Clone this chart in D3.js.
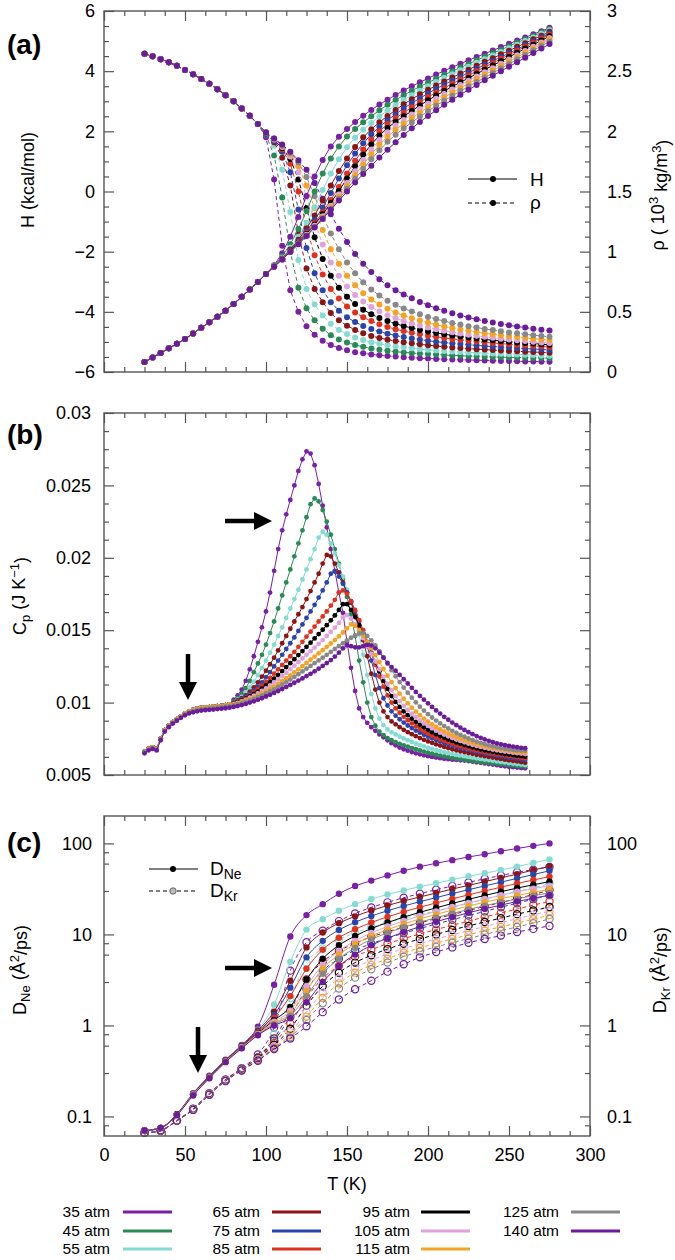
<!DOCTYPE html>
<html>
<head>
<meta charset="utf-8">
<script src="https://cdn.jsdelivr.net/npm/d3@7"></script>
<style>
  body { margin: 0; background: #fff; }
  text { font-family: "Liberation Sans", Arial, sans-serif; fill: #000; }
  .axis .domain { display: none; }
  .axis line { stroke: #555; stroke-width: 1.2; }
  .axis text { font-size: 18px; font-family: "Liberation Sans", Arial, sans-serif; fill: #000; }
</style>
</head>
<body>
<div id="chart"></div>
<script>
// pressures (legend) and line colours
var pressures = ["35 atm", "45 atm", "55 atm", "65 atm", "75 atm", "85 atm", "95 atm", "105 atm", "115 atm", "125 atm", "140 atm"];
var colors = ["#7a1fa6", "#2a8a56", "#84dbd3", "#8c1414", "#2944ad", "#e2301f", "#000000", "#dea2dc", "#f4a323", "#888888", "#6b1b9c"];

// axis tick labels
var tTicks = [0, 50, 100, 150, 200, 250, 300];
var hTicks = [-6, -4, -2, 0, 2, 4, 6];
var rhoTicks = [0, 0.5, 1, 1.5, 2, 2.5, 3];
var cpTicks = [5, 10, 15, 20, 25, 30];          // 10^-3 J/K
var dTicks = [0.1, 1, 10, 100];

// ---------- (a) enthalpy (kcal/mol) and density (10^3 kg/m3) ----------
var tempA = [25,30,35,40,45,50,55,60,65,70,75,80,85,90,95,100,105,110,115,120,125,130,135,140,145,150,
  155,160,165,170,175,180,185,190,195,200,205,210,215,220,225,230,235,240,245,250,255,260,265,270,275];

// all pressures overlap below 100 K
var hBelow100 = [-5.67,-5.52,-5.37,-5.21,-5.06,-4.90,-4.72,-4.53,-4.35,-4.16,-3.96,-3.74,-3.50,-3.26,-3.01,-2.74];
var h35 = hBelow100.concat([-2.45,-2.05,-1.5,-0.85,-0.15,0.5,1.05,1.5,1.82,2.08,2.31,2.52,2.71,2.89,3.05,3.21,3.36,3.5,3.63,3.76,3.89,4.01,4.13,4.25,4.36,4.47,4.58,4.69,4.8,4.91,5.02,5.12,5.23,5.33,5.44]);
var h45 = hBelow100.concat([-2.47,-2.15,-1.75,-1.25,-0.65,0.0,0.6,1.1,1.5,1.83,2.08,2.3,2.5,2.7,2.88,3.04,3.2,3.35,3.49,3.62,3.75,3.88,4.0,4.12,4.24,4.36,4.48,4.6,4.71,4.83,4.95,5.06,5.17,5.29,5.4]);
var h55 = hBelow100.concat([-2.48,-2.2,-1.87,-1.5,-1.05,-0.52,0.05,0.6,1.07,1.47,1.79,2.05,2.28,2.49,2.69,2.87,3.04,3.2,3.35,3.5,3.64,3.77,3.9,4.03,4.15,4.28,4.4,4.52,4.64,4.76,4.88,5.0,5.12,5.24,5.36]);
var h65 = hBelow100.concat([-2.49,-2.23,-1.93,-1.6,-1.23,-0.8,-0.3,0.2,0.68,1.1,1.48,1.8,2.07,2.3,2.51,2.71,2.9,3.07,3.23,3.38,3.52,3.66,3.79,3.92,4.05,4.18,4.31,4.43,4.56,4.68,4.81,4.93,5.06,5.18,5.31]);
var h75 = hBelow100.concat([-2.49,-2.24,-1.96,-1.65,-1.32,-0.95,-0.53,-0.05,0.43,0.87,1.26,1.6,1.9,2.15,2.37,2.57,2.76,2.94,3.1,3.26,3.41,3.55,3.69,3.82,3.95,4.08,4.21,4.34,4.47,4.6,4.73,4.86,4.99,5.12,5.26]);
var h85 = hBelow100.concat([-2.5,-2.25,-1.98,-1.69,-1.38,-1.05,-0.69,-0.28,0.15,0.6,1.02,1.4,1.72,2.0,2.24,2.44,2.62,2.8,2.97,3.14,3.29,3.44,3.58,3.72,3.86,4.0,4.14,4.27,4.41,4.54,4.68,4.81,4.94,5.08,5.21]);
var h95 = hBelow100.concat([-2.5,-2.25,-1.99,-1.71,-1.41,-1.1,-0.76,-0.38,0.02,0.43,0.84,1.22,1.56,1.86,2.11,2.32,2.5,2.68,2.86,3.03,3.19,3.34,3.49,3.63,3.77,3.91,4.05,4.19,4.33,4.47,4.61,4.75,4.88,5.02,5.16]);
var h105 = hBelow100.concat([-2.5,-2.26,-2.0,-1.73,-1.44,-1.14,-0.82,-0.47,-0.1,0.28,0.67,1.05,1.4,1.71,1.97,2.19,2.38,2.56,2.74,2.92,3.08,3.24,3.39,3.54,3.68,3.82,3.96,4.1,4.25,4.39,4.53,4.67,4.81,4.95,5.1]);
var h115 = hBelow100.concat([-2.5,-2.26,-2.0,-1.74,-1.46,-1.17,-0.86,-0.53,-0.18,0.18,0.54,0.9,1.24,1.55,1.82,2.05,2.25,2.44,2.62,2.8,2.97,3.13,3.29,3.44,3.59,3.74,3.88,4.03,4.17,4.32,4.46,4.61,4.75,4.9,5.05]);
var h125 = hBelow100.concat([-2.5,-2.26,-2.0,-1.74,-1.47,-1.18,-0.88,-0.57,-0.24,0.09,0.42,0.75,1.07,1.37,1.65,1.89,2.1,2.3,2.49,2.67,2.85,3.02,3.18,3.34,3.49,3.64,3.79,3.94,4.09,4.24,4.39,4.54,4.69,4.84,4.98]);
var h140 = hBelow100.concat([-2.5,-2.26,-2.01,-1.75,-1.48,-1.2,-0.91,-0.61,-0.3,0.0,0.3,0.58,0.86,1.13,1.39,1.64,1.88,2.1,2.31,2.51,2.7,2.88,3.05,3.22,3.38,3.54,3.7,3.85,4.0,4.15,4.3,4.45,4.6,4.75,4.9]);

var rhoBelow100 = [2.645,2.625,2.6,2.575,2.545,2.51,2.475,2.435,2.395,2.35,2.3,2.25,2.19,2.13,2.06];
var rho35 = rhoBelow100.concat([1.95,1.6,1.05,0.68,0.5,0.38,0.31,0.26,0.225,0.2,0.18,0.165,0.155,0.146,0.139,0.133,0.128,0.123,0.119,0.115,0.112,0.109,0.106,0.104,0.102,0.1,0.098,0.096,0.094,0.092,0.091,0.089,0.088,0.087,0.086,0.085]);
var rho45 = rhoBelow100.concat([1.97,1.8,1.45,1.0,0.7,0.53,0.43,0.36,0.305,0.27,0.245,0.225,0.209,0.196,0.185,0.176,0.169,0.163,0.158,0.153,0.149,0.145,0.141,0.138,0.135,0.132,0.13,0.127,0.125,0.123,0.121,0.12,0.118,0.117,0.116,0.115]);
var rho55 = rhoBelow100.concat([1.98,1.88,1.68,1.33,0.93,0.69,0.56,0.47,0.4,0.35,0.315,0.287,0.265,0.248,0.234,0.223,0.213,0.205,0.198,0.191,0.185,0.18,0.175,0.171,0.167,0.163,0.16,0.157,0.154,0.151,0.148,0.146,0.143,0.141,0.138,0.136]);
var rho65 = rhoBelow100.concat([1.98,1.91,1.78,1.55,1.15,0.86,0.69,0.58,0.49,0.43,0.385,0.35,0.322,0.3,0.283,0.269,0.257,0.247,0.238,0.23,0.223,0.216,0.21,0.204,0.199,0.194,0.19,0.186,0.182,0.178,0.175,0.172,0.169,0.166,0.163,0.16]);
var rho75 = rhoBelow100.concat([1.98,1.92,1.83,1.66,1.35,1.03,0.82,0.68,0.58,0.51,0.455,0.415,0.383,0.357,0.336,0.318,0.303,0.29,0.279,0.269,0.26,0.252,0.245,0.238,0.232,0.226,0.221,0.216,0.211,0.207,0.203,0.199,0.195,0.191,0.187,0.183]);
var rho85 = rhoBelow100.concat([1.99,1.93,1.85,1.73,1.5,1.2,0.97,0.81,0.69,0.61,0.545,0.495,0.455,0.423,0.397,0.375,0.356,0.34,0.326,0.313,0.302,0.292,0.283,0.275,0.267,0.26,0.253,0.247,0.241,0.236,0.231,0.226,0.221,0.216,0.212,0.208]);
var rho95 = rhoBelow100.concat([1.99,1.93,1.86,1.77,1.6,1.36,1.12,0.94,0.8,0.7,0.625,0.565,0.518,0.48,0.449,0.423,0.401,0.382,0.365,0.35,0.337,0.325,0.314,0.304,0.295,0.286,0.278,0.271,0.264,0.258,0.252,0.246,0.241,0.236,0.231,0.226]);
var rho105 = rhoBelow100.concat([1.99,1.93,1.87,1.79,1.66,1.46,1.25,1.06,0.91,0.8,0.71,0.64,0.585,0.54,0.503,0.472,0.446,0.424,0.404,0.386,0.37,0.356,0.343,0.331,0.32,0.31,0.301,0.292,0.284,0.277,0.27,0.263,0.257,0.251,0.246,0.241]);
var rho115 = rhoBelow100.concat([1.99,1.94,1.88,1.81,1.71,1.55,1.36,1.18,1.02,0.9,0.8,0.72,0.655,0.603,0.56,0.525,0.495,0.469,0.447,0.427,0.409,0.393,0.378,0.365,0.353,0.342,0.332,0.322,0.313,0.305,0.297,0.29,0.283,0.277,0.271,0.265]);
var rho125 = rhoBelow100.concat([1.99,1.94,1.88,1.82,1.74,1.62,1.46,1.3,1.15,1.02,0.91,0.82,0.745,0.685,0.635,0.593,0.558,0.528,0.502,0.479,0.458,0.44,0.423,0.408,0.394,0.381,0.369,0.358,0.348,0.338,0.329,0.321,0.313,0.306,0.299,0.292]);
var rho140 = rhoBelow100.concat([1.99,1.94,1.89,1.83,1.76,1.68,1.57,1.44,1.31,1.19,1.08,0.98,0.9,0.83,0.77,0.72,0.68,0.645,0.612,0.582,0.555,0.53,0.508,0.488,0.47,0.453,0.438,0.424,0.411,0.399,0.388,0.378,0.369,0.36,0.352,0.344]);

// ---------- (b) heat capacity, in 10^-3 J/K ----------
var tempB = [25,27.5,30,32.5,35,37.5,40,42.5,45,47.5,50,52.5,55,57.5,60,62.5,65,67.5,70,72.5,75,77.5,
  80,82.5,85,87.5,90,92.5,95,97.5,100,102.5,105,107.5,110,112.5,115,117.5,120,122.5,125,127.5,
  130,132.5,135,137.5,140,142.5,145,147.5,150,152.5,155,157.5,160,162.5,165,167.5,170,172.5,175,177.5,
  180,182.5,185,187.5,190,192.5,195,197.5,200,202.5,205,207.5,210,212.5,215,217.5,220,222.5,225,227.5,
  230,232.5,235,237.5,240,242.5,245,247.5,250,252.5,255,257.5,260];

var cpBelow80 = [6.6,6.8,6.9,6.8,7.5,8.1,8.4,8.65,8.85,9.05,9.25,9.4,9.5,9.58,9.63,9.66,9.69,9.72,9.75,9.78,9.82,9.87];
var cp35 = cpBelow80.concat([10.2,10.5,10.9,11.5,12.3,13.2,14.2,15.2,16.3,17.6,
  19.1,20.6,21.9,23.0,24.0,25.0,26.0,26.8,27.35,27.2, 26.4,25.1,23.6,22.1,20.6,19.1,17.6,16.2,14.2,12.4,
  10.8,9.6,9.0,8.6,8.3,8.05,7.8,7.6,7.4,7.2, 7.05,6.9,6.78,6.68,6.58,6.5,6.43,6.36,6.3,6.25,
  6.2,6.16,6.12,6.09,6.06,6.04,6.02,6.0,5.96,5.92, 5.88,5.84,5.8,5.76,5.72,5.68,5.64,5.6,5.57,5.54, 5.51,5.48,5.46]);
var cp45 = cpBelow80.concat([10.1,10.3,10.6,11.0,11.5,12.1,12.7,13.3,14.0,14.8,
  15.6,16.5,17.4,18.3,19.2,20.1,21.0,21.9,22.8,23.7, 24.1,23.9,23.3,22.5,21.6,20.6,19.6,18.5,17.3,16.1,
  14.6,12.9,11.4,10.0,9.0,8.4,8.0,7.75,7.55,7.4, 7.27,7.15,7.05,6.95,6.86,6.78,6.7,6.62,6.54,6.47,
  6.4,6.34,6.28,6.23,6.18,6.14,6.1,6.06,6.02,5.98, 5.94,5.9,5.87,5.84,5.81,5.78,5.75,5.72,5.69,5.66, 5.63,5.6,5.58]);
var cp55 = cpBelow80.concat([10.0,10.2,10.4,10.7,11.05,11.45,11.9,12.4,12.9,13.45,
  14.0,14.6,15.2,15.85,16.5,17.15,17.8,18.5,19.2,19.9, 20.6,21.4,21.8,21.6,21.0,20.3,19.5,18.7,17.8,16.9,
  15.9,14.7,13.3,11.9,10.6,9.6,8.9,8.45,8.15,7.95, 7.8,7.65,7.52,7.4,7.28,7.17,7.07,6.97,6.88,6.8,
  6.72,6.65,6.58,6.52,6.46,6.4,6.35,6.3,6.25,6.2, 6.15,6.11,6.07,6.03,5.99,5.95,5.91,5.87,5.83,5.79, 5.76,5.72,5.69]);
var cp65 = cpBelow80.concat([10.0,10.15,10.3,10.5,10.75,11.05,11.4,11.8,12.2,12.65,
  13.1,13.6,14.1,14.6,15.1,15.6,16.1,16.6,17.15,17.7, 18.3,18.9,19.6,20.2,20.1,19.6,19.0,18.3,17.6,16.9,
  16.1,15.3,14.3,13.2,12.0,10.9,10.0,9.4,9.0,8.7, 8.5,8.3,8.12,7.96,7.82,7.68,7.55,7.43,7.32,7.22,
  7.12,7.03,6.94,6.86,6.78,6.71,6.64,6.58,6.52,6.46, 6.4,6.35,6.3,6.25,6.2,6.15,6.11,6.06,6.02,5.98, 5.94,5.89,5.85]);
var cp75 = cpBelow80.concat([9.95,10.1,10.25,10.42,10.62,10.85,11.1,11.4,11.75,12.1,
  12.5,12.9,13.3,13.7,14.1,14.5,14.95,15.4,15.85,16.3, 16.75,17.25,17.75,18.3,18.9,19.05,18.7,18.2,17.6,17.0,
  16.3,15.6,14.8,13.9,12.9,11.9,11.0,10.3,9.8,9.4, 9.1,8.85,8.62,8.42,8.24,8.07,7.92,7.78,7.65,7.53,
  7.42,7.31,7.21,7.12,7.03,6.95,6.87,6.8,6.73,6.67, 6.61,6.55,6.5,6.45,6.4,6.35,6.3,6.26,6.21,6.17, 6.13,6.08,6.04]);
var cp85 = cpBelow80.concat([9.92,10.05,10.18,10.33,10.5,10.7,10.92,11.16,11.42,11.7,
  12.0,12.3,12.6,12.9,13.2,13.5,13.85,14.2,14.55,14.9, 15.25,15.6,15.95,16.3,16.7,17.1,17.6,17.75,17.5,17.0,
  16.4,15.7,15.0,14.2,13.4,12.6,11.8,11.1,10.5,10.0, 9.6,9.3,9.02,8.78,8.56,8.36,8.18,8.01,7.86,7.72,
  7.59,7.47,7.36,7.26,7.16,7.07,6.99,6.91,6.84,6.77, 6.71,6.65,6.59,6.54,6.49,6.44,6.39,6.35,6.31,6.27, 6.23,6.19,6.15]);
var cp95 = cpBelow80.concat([9.9,10.02,10.14,10.27,10.42,10.58,10.76,10.96,11.18,11.42,
  11.66,11.92,12.18,12.45,12.72,13.0,13.28,13.56,13.85,14.14, 14.43,14.73,15.03,15.35,15.68,16.02,16.4,16.8,16.8,16.4,
  15.9,15.35,14.75,14.1,13.45,12.8,12.15,11.5,10.95,10.45, 10.05,9.7,9.4,9.13,8.89,8.67,8.47,8.29,8.12,7.96,
  7.82,7.69,7.57,7.46,7.35,7.25,7.16,7.07,6.99,6.91, 6.84,6.77,6.71,6.65,6.6,6.55,6.5,6.45,6.41,6.37, 6.33,6.3,6.27]);
var cp105 = cpBelow80.concat([9.88,9.98,10.09,10.21,10.34,10.48,10.63,10.8,10.98,11.18,
  11.39,11.61,11.84,12.07,12.31,12.55,12.8,13.05,13.3,13.55, 13.8,14.06,14.32,14.6,14.88,15.18,15.5,15.9,16.05,15.8,
  15.4,14.95,14.45,13.92,13.38,12.84,12.3,11.78,11.3,10.86, 10.46,10.1,9.78,9.49,9.23,8.99,8.77,8.57,8.39,8.22,
  8.06,7.92,7.79,7.67,7.56,7.45,7.35,7.26,7.17,7.09, 7.01,6.94,6.88,6.82,6.76,6.71,6.66,6.62,6.58,6.54, 6.51,6.48,6.45]);
var cp115 = cpBelow80.concat([9.85,9.94,10.03,10.13,10.24,10.36,10.49,10.63,10.78,10.94,
  11.11,11.29,11.48,11.68,11.88,12.09,12.3,12.52,12.74,12.96, 13.18,13.4,13.62,13.85,14.08,14.32,14.57,14.84,15.12,15.4,
  15.3,15.0,14.62,14.2,13.75,13.28,12.8,12.32,11.86,11.42, 11.0,10.62,10.27,9.95,9.65,9.38,9.13,8.9,8.69,8.5,
  8.32,8.16,8.01,7.87,7.74,7.62,7.51,7.41,7.31,7.22, 7.14,7.06,6.99,6.93,6.87,6.82,6.77,6.72,6.68,6.64, 6.6,6.57,6.54]);
var cp125 = [6.6,6.75,6.85,6.75,7.45,8.05,8.35,8.6,8.8,9.0,9.2,9.33,9.42,9.5,9.55,9.58,9.61,9.64,9.67,9.7,9.73,9.77,
  9.8,9.88,9.96,10.05,10.15,10.26,10.38,10.5,10.63,10.77,
  10.92,11.08,11.24,11.41,11.59,11.77,11.96,12.15,12.34,12.53, 12.72,12.91,13.1,13.3,13.5,13.7,13.9,14.1,14.3,14.48,
  14.64,14.78,14.82,14.6,14.3,13.95,13.55,13.12,12.68,12.24, 11.82,11.42,11.04,10.68,10.34,10.02,9.72,9.45,9.2,8.97,
  8.76,8.56,8.38,8.21,8.05,7.9,7.77,7.64,7.52,7.41, 7.31,7.22,7.13,7.05,6.98,6.92,6.86,6.81,6.77,6.73, 6.7,6.69,6.68];
var cp140 = [6.5,6.7,6.8,6.7,7.4,8.0,8.3,8.55,8.75,8.95,9.12,9.25,9.33,9.4,9.45,9.48,9.5,9.52,9.55,9.58,9.61,9.65,
  9.7,9.76,9.83,9.91,10.0,10.09,10.19,10.3,10.42,10.54,
  10.67,10.8,10.94,11.08,11.22,11.37,11.52,11.67,11.83,11.99, 12.16,12.34,12.53,12.73,12.94,13.18,13.45,13.75,13.95,13.9,
  13.82,13.82,13.9,13.98,13.95,13.75,13.45,13.1,12.75,12.45, 12.2,11.92,11.62,11.32,11.02,10.74,10.46,10.2,9.95,9.7,
  9.46,9.24,9.02,8.82,8.62,8.44,8.27,8.11,7.96,7.82, 7.69,7.57,7.46,7.36,7.27,7.19,7.12,7.06,7.01,6.96, 6.92,6.88,6.85];

// ---------- (c) diffusion coefficients, A^2/ps ----------
var tempC = [25,35,45,55,65,75,85,95,105,115,125,135,145,155,165,175,185,195,205,215,225,235,245,255,265,275];
var dNe35 = [0.07,0.074,0.106,0.18,0.28,0.42,0.61,0.97,2.8,9.5,16.3,21.5,28,34,39,44.5,50,55.5,60.5,65.5,71,76,82,88,94,100];
var dNe55 = [0.07,0.075,0.106,0.177,0.275,0.415,0.6,0.9,1.7,5.0,11.3,14.7,18.2,21.5,24.5,27.5,30.5,33.5,36.5,40,43.5,47,51,55.5,61,66.7];
var dNe65 = [0.07,0.075,0.106,0.177,0.275,0.415,0.6,0.88,1.42,3.1,7.2,10.5,13.3,15.8,18.3,20.8,23.3,25.8,28.5,31.5,34.6,38,41.8,46,51,56];
var dNe75 = [0.07,0.075,0.105,0.176,0.273,0.41,0.59,0.86,1.3,2.6,5.6,8.5,11.2,13.6,15.9,18.2,20.5,22.9,25.4,28.1,31,34.1,37.5,41.3,45.5,50];
var dNe85 = [0.07,0.075,0.105,0.175,0.272,0.408,0.585,0.84,1.22,2.1,4.2,6.8,9.2,11.4,13.5,15.6,17.7,19.9,22.2,24.6,27.2,30,33,36.3,39.6,43.2];
var dNe95 = [0.07,0.075,0.105,0.175,0.27,0.405,0.58,0.82,1.14,1.6,3.2,5.4,7.6,9.6,11.6,13.5,15.5,17.5,19.6,21.9,24.3,26.8,29.5,32.3,35.1,38];
var dNe105 = [0.07,0.075,0.104,0.174,0.268,0.402,0.575,0.81,1.1,1.45,2.7,4.6,6.6,8.5,10.4,12.2,14.1,16,17.9,20,22.2,24.5,26.9,29.4,31.8,34.3];
var dNe115 = [0.07,0.075,0.104,0.173,0.266,0.4,0.57,0.8,1.06,1.35,2.4,4.2,6.0,7.8,9.6,11.3,13.0,14.8,16.6,18.5,20.5,22.6,24.7,26.8,29,31.3];
var dNe125 = [0.07,0.075,0.104,0.172,0.265,0.398,0.565,0.79,1.03,1.28,2.1,3.7,5.4,7.1,8.8,10.4,12.0,13.6,15.3,17.0,18.8,20.7,22.6,24.6,26.6,28.6];
var dNe140 = [0.07,0.075,0.103,0.17,0.263,0.395,0.56,0.78,1.0,1.2,1.8,3.0,4.5,6.0,7.6,9.1,10.6,12.2,13.8,15.5,17.3,19.1,21,23,25,27];
var dKr35 = [0.066,0.07,0.09,0.122,0.18,0.255,0.34,0.48,0.95,4.0,8.2,11.0,14.0,17.0,19.8,22.5,25.3,28.0,31,34,37.3,40.8,44.4,48.2,51.5,55];
var dKr55 = [0.066,0.07,0.09,0.121,0.178,0.252,0.335,0.45,0.8,2.0,4.9,7.0,8.8,10.4,12.0,13.5,15.0,16.5,18.1,19.8,21.9,24.2,26.8,29.6,32.6,36];
var dKr65 = [0.066,0.07,0.09,0.121,0.178,0.252,0.333,0.445,0.72,1.45,3.2,5.0,6.6,8.0,9.4,10.7,12.0,13.4,14.9,16.5,18.3,20.3,22.4,24.8,27.4,30.5];
var dKr75 = [0.066,0.07,0.09,0.12,0.177,0.251,0.332,0.44,0.68,1.25,2.5,4.0,5.4,6.7,7.9,9.1,10.3,11.6,13.0,14.5,16.1,17.9,19.9,22.0,24.4,27];
var dKr85 = [0.066,0.07,0.09,0.12,0.177,0.25,0.33,0.435,0.64,1.05,2.0,3.3,4.5,5.7,6.8,7.9,9.0,10.1,11.3,12.6,14.0,15.5,17.2,19.0,21.0,23];
var dKr95 = [0.066,0.07,0.09,0.12,0.176,0.249,0.328,0.43,0.61,0.92,1.65,2.7,3.8,4.9,5.9,6.9,7.9,8.9,10.0,11.2,12.4,13.7,15.1,16.7,18.3,20];
var dKr105 = [0.066,0.07,0.09,0.119,0.175,0.248,0.326,0.425,0.59,0.84,1.4,2.3,3.3,4.3,5.2,6.1,7.0,7.9,8.9,9.9,11.0,12.2,13.5,14.9,16.4,18];
var dKr115 = [0.066,0.07,0.09,0.119,0.175,0.247,0.324,0.42,0.57,0.78,1.25,2.0,2.9,3.8,4.6,5.4,6.3,7.1,8.0,8.9,9.9,11.0,12.1,13.3,14.7,16.3];
var dKr125 = [0.066,0.07,0.09,0.119,0.174,0.246,0.322,0.415,0.56,0.74,1.15,1.75,2.55,3.35,4.15,4.9,5.7,6.5,7.3,8.1,9.0,10.0,11.0,12.1,13.3,14.8];
var dKr140 = [0.066,0.07,0.09,0.118,0.173,0.245,0.32,0.41,0.55,0.72,0.98,1.4,1.93,2.5,3.1,3.9,4.7,5.6,6.4,7.2,8.1,8.9,9.7,10.6,11.5,12.4];

// series tables
var hList = [h35, h45, h55, h65, h75, h85, h95, h105, h115, h125, h140];
var rhoList = [rho35, rho45, rho55, rho65, rho75, rho85, rho95, rho105, rho115, rho125, rho140];
var cpList = [cp35, cp45, cp55, cp65, cp75, cp85, cp95, cp105, cp115, cp125, cp140];
// 45 atm is not shown in panel (c)
var diffList = [
  {i: 0, ne: dNe35, kr: dKr35}, {i: 2, ne: dNe55, kr: dKr55}, {i: 3, ne: dNe65, kr: dKr65},
  {i: 4, ne: dNe75, kr: dKr75}, {i: 5, ne: dNe85, kr: dKr85}, {i: 6, ne: dNe95, kr: dKr95},
  {i: 7, ne: dNe105, kr: dKr105}, {i: 8, ne: dNe115, kr: dKr115}, {i: 9, ne: dNe125, kr: dKr125},
  {i: 10, ne: dNe140, kr: dKr140}
];

function checkLen(list, n, tag) {
  list.forEach(function (a, k) {
    if (a.length !== n) throw new Error(tag + " series " + k + " has " + a.length + " values, expected " + n);
  });
}
checkLen(hList, tempA.length, "H");
checkLen(rhoList, tempA.length, "rho");
checkLen(cpList, tempB.length, "Cp");
checkLen(diffList.map(function (d) { return d.ne; }), tempC.length, "DNe");
checkLen(diffList.map(function (d) { return d.kr; }), tempC.length, "DKr");

// ---------- layout ----------
var w = 675, h = 1260;
var xL = 104, xR = 590;
var pa = {top: 11, bottom: 372}, pb = {top: 413, bottom: 775}, pc = {top: 816, bottom: 1136};

var svg = d3.select("#chart").append("svg").attr("width", w).attr("height", h);

var x = d3.scaleLinear().domain([0, 300]).range([xL, xR]);
var yH = d3.scaleLinear().domain([-6, 6]).range([pa.bottom, pa.top]);
var yRho = d3.scaleLinear().domain([0, 3]).range([pa.bottom, pa.top]);
var yCp = d3.scaleLinear().domain([5, 30]).range([pb.bottom, pb.top]);
var yD = d3.scaleLog().domain([0.061, 200]).range([pc.bottom, pc.top]);

function noMajor(vals, majors) {
  return vals.filter(function (v) {
    return !majors.some(function (m) { return Math.abs(m - v) < 1e-9; });
  });
}

// inward ticks on one side; labels optional
function addAxis(axisFn, scale, pos, isX, majors, minors, fmt, pad) {
  var tr = isX ? "translate(0," + pos + ")" : "translate(" + pos + ",0)";
  svg.append("g").attr("class", "axis").attr("transform", tr)
    .call(axisFn(scale).tickValues(minors).tickSize(-5).tickFormat(""));
  svg.append("g").attr("class", "axis").attr("transform", tr)
    .call(axisFn(scale).tickValues(majors).tickSize(-10).tickPadding(pad || 8)
      .tickFormat(fmt ? fmt : ""));
}

var tMinor = noMajor(d3.range(0, 300.1, 12.5), tTicks);

function frame(p) {
  svg.append("rect").attr("x", xL).attr("y", p.top).attr("width", xR - xL).attr("height", p.bottom - p.top)
    .attr("fill", "none").attr("stroke", "#555").attr("stroke-width", 1.4);
}

function xAxes(p, labels) {
  addAxis(d3.axisBottom, x, p.bottom, true, tTicks, tMinor, labels ? function (d) { return d; } : null, 12);
  addAxis(d3.axisTop, x, p.top, true, tTicks, tMinor, null);
}

// ---------- (a) ----------
addAxis(d3.axisLeft, yH, xL, false, hTicks, noMajor(d3.range(-6, 6.01, 0.5), hTicks), d3.format("d"), 9);
addAxis(d3.axisRight, yRho, xR, false, rhoTicks, noMajor(d3.range(0, 3.01, 0.125), rhoTicks), function (d) { return d; }, 17);
xAxes(pa, false);

var lineRho = d3.line().x(function (d, k) { return x(tempA[k]); }).y(function (d) { return yRho(d); });
var lineH = d3.line().x(function (d, k) { return x(tempA[k]); }).y(function (d) { return yH(d); });

rhoList.forEach(function (s, i) {
  svg.append("path").datum(s).attr("d", lineRho).attr("fill", "none")
    .attr("stroke", colors[i]).attr("stroke-width", 1).attr("stroke-dasharray", "4,3");
  svg.append("g").selectAll("circle").data(s).join("circle")
    .attr("cx", function (d, k) { return x(tempA[k]); }).attr("cy", function (d) { return yRho(d); })
    .attr("r", 3).attr("fill", colors[i]);
});
hList.forEach(function (s, i) {
  svg.append("path").datum(s).attr("d", lineH).attr("fill", "none")
    .attr("stroke", colors[i]).attr("stroke-width", 1);
  svg.append("g").selectAll("circle").data(s).join("circle")
    .attr("cx", function (d, k) { return x(tempA[k]); }).attr("cy", function (d) { return yH(d); })
    .attr("r", 3).attr("fill", colors[i]);
});
frame(pa);

// legend (a)
svg.append("line").attr("x1", 468).attr("x2", 517).attr("y1", 179).attr("y2", 179).attr("stroke", "#000");
svg.append("circle").attr("cx", 493).attr("cy", 179).attr("r", 3).attr("fill", "#000");
svg.append("text").attr("x", 530).attr("y", 186).attr("font-size", 19).text("H");
svg.append("line").attr("x1", 468).attr("x2", 517).attr("y1", 203).attr("y2", 203).attr("stroke", "#000")
  .attr("stroke-dasharray", "4,3");
svg.append("circle").attr("cx", 493).attr("cy", 203).attr("r", 3).attr("fill", "#000");
svg.append("text").attr("x", 530).attr("y", 209).attr("font-size", 19).text("ρ");

// titles (a)
svg.append("text").attr("x", 7).attr("y", 54).attr("font-size", 28).attr("font-weight", "bold").text("(a)");
svg.append("text").attr("transform", "translate(28,180) rotate(-90)").attr("text-anchor", "middle")
  .attr("dy", "0.35em").attr("font-size", 18).text("H (kcal/mol)");
var rhoLab = svg.append("text").attr("transform", "translate(658,195) rotate(-90)").attr("text-anchor", "middle")
  .attr("dy", "0.35em").attr("font-size", 18);
rhoLab.append("tspan").text("ρ ( 10");
rhoLab.append("tspan").attr("dy", "-0.45em").attr("font-size", 13).text("3");
rhoLab.append("tspan").attr("dy", "0.45em").text(" kg/m");
rhoLab.append("tspan").attr("dy", "-0.45em").attr("font-size", 13).text("3");
rhoLab.append("tspan").attr("dy", "0.45em").text(")");

// ---------- (b) ----------
addAxis(d3.axisLeft, yCp, xL, false, cpTicks, noMajor(d3.range(5, 30.01, 1.25), cpTicks),
  function (d) { return d / 1000; }, 13);
addAxis(d3.axisRight, yCp, xR, false, cpTicks, noMajor(d3.range(5, 30.01, 1.25), cpTicks), null);
xAxes(pb, false);

var lineCp = d3.line().x(function (d, k) { return x(tempB[k]); }).y(function (d) { return yCp(d); });
cpList.forEach(function (s, i) {
  svg.append("path").datum(s).attr("d", lineCp).attr("fill", "none")
    .attr("stroke", colors[i]).attr("stroke-width", 1);
  svg.append("g").selectAll("circle").data(s).join("circle")
    .attr("cx", function (d, k) { return x(tempB[k]); }).attr("cy", function (d) { return yCp(d); })
    .attr("r", 2.4).attr("fill", colors[i]);
});
frame(pb);

svg.append("text").attr("x", 7).attr("y", 444).attr("font-size", 28).attr("font-weight", "bold").text("(b)");
var cpLab = svg.append("text").attr("transform", "translate(20,596) rotate(-90)").attr("text-anchor", "middle")
  .attr("dy", "0.35em").attr("font-size", 18);
cpLab.append("tspan").text("C");
cpLab.append("tspan").attr("dy", "0.3em").attr("font-size", 13).text("p");
cpLab.append("tspan").attr("dy", "-0.3em").text(" (J K");
cpLab.append("tspan").attr("dy", "-0.45em").attr("font-size", 13).text("−1");
cpLab.append("tspan").attr("dy", "0.45em").text(")");

function arrow(x1, y1, x2, y2) {
  var dx = x2 - x1, dy = y2 - y1, len = Math.sqrt(dx * dx + dy * dy);
  var ux = dx / len, uy = dy / len, hl = 18, hw = 9;
  var bx = x2 - ux * hl, by = y2 - uy * hl;
  svg.append("line").attr("x1", x1).attr("y1", y1).attr("x2", bx).attr("y2", by)
    .attr("stroke", "#000").attr("stroke-width", 4.5);
  svg.append("path").attr("fill", "#000")
    .attr("d", "M" + x2 + "," + y2 + "L" + (bx - uy * hw) + "," + (by + ux * hw) + "L" + (bx + uy * hw) + "," + (by - ux * hw) + "Z");
}
arrow(225, 521, 272, 521);
arrow(188, 654, 188, 700);

// ---------- (c) ----------
var dMinor = [0.08, 0.3, 0.6, 0.8, 3, 6, 8, 30, 60, 80];
addAxis(d3.axisLeft, yD, xL, false, dTicks, dMinor, function (d) { return d; }, 12);
addAxis(d3.axisRight, yD, xR, false, dTicks, dMinor, function (d) { return d; }, 17);
xAxes(pc, true);

var lineNe = d3.line().curve(d3.curveMonotoneX)
  .x(function (d, k) { return x(tempC[k]); }).y(function (d) { return yD(d); });
diffList.forEach(function (s) {
  var c = colors[s.i];
  svg.append("path").datum(s.kr).attr("d", lineNe).attr("fill", "none")
    .attr("stroke", c).attr("stroke-width", 1).attr("stroke-dasharray", "4,3");
  svg.append("g").selectAll("circle").data(s.kr).join("circle")
    .attr("cx", function (d, k) { return x(tempC[k]); }).attr("cy", function (d) { return yD(d); })
    .attr("r", 3.6).attr("fill", "none").attr("stroke", c).attr("stroke-width", 1.2);
});
diffList.forEach(function (s) {
  var c = colors[s.i];
  svg.append("path").datum(s.ne).attr("d", lineNe).attr("fill", "none")
    .attr("stroke", c).attr("stroke-width", 1);
  svg.append("g").selectAll("circle").data(s.ne).join("circle")
    .attr("cx", function (d, k) { return x(tempC[k]); }).attr("cy", function (d) { return yD(d); })
    .attr("r", 3.2).attr("fill", c);
});
frame(pc);

arrow(225, 968, 272, 968);
arrow(198, 1027, 198, 1073);

// legend (c)
svg.append("line").attr("x1", 149).attr("x2", 198).attr("y1", 869).attr("y2", 869).attr("stroke", "#000");
svg.append("circle").attr("cx", 173).attr("cy", 869).attr("r", 3).attr("fill", "#000");
svg.append("line").attr("x1", 149).attr("x2", 198).attr("y1", 891).attr("y2", 891).attr("stroke", "#000")
  .attr("stroke-dasharray", "4,3");
svg.append("circle").attr("cx", 173).attr("cy", 891).attr("r", 3.2).attr("fill", "#bbb").attr("stroke", "#666");
function subLabel(xp, yp, main, sub) {
  var t = svg.append("text").attr("x", xp).attr("y", yp).attr("font-size", 19);
  t.append("tspan").text(main);
  t.append("tspan").attr("dy", "0.3em").attr("font-size", 14).text(sub);
  return t;
}
subLabel(210, 875, "D", "Ne");
subLabel(210, 897, "D", "Kr");

svg.append("text").attr("x", 7).attr("y", 852).attr("font-size", 28).attr("font-weight", "bold").text("(c)");
function dLabel(xp, yp, sub) {
  var t = svg.append("text").attr("transform", "translate(" + xp + "," + yp + ") rotate(-90)")
    .attr("text-anchor", "middle").attr("dy", "0.35em").attr("font-size", 18);
  t.append("tspan").text("D");
  t.append("tspan").attr("dy", "0.3em").attr("font-size", 13).text(sub);
  t.append("tspan").attr("dy", "-0.3em").text(" (Å");
  t.append("tspan").attr("dy", "-0.45em").attr("font-size", 13).text("2");
  t.append("tspan").attr("dy", "0.45em").text("/ps)");
}
dLabel(20, 970, "Ne");
dLabel(660, 970, "Kr");
svg.append("text").attr("x", 347).attr("y", 1190).attr("text-anchor", "middle").attr("font-size", 18).text("T (K)");

// ---------- pressure legend ----------
var legCols = [
  {textEnd: 110, x1: 123, x2: 172},
  {textEnd: 260, x1: 272, x2: 321},
  {textEnd: 410, x1: 421, x2: 470},
  {textEnd: 559, x1: 571, x2: 620}
];
var legRows = [1212, 1231, 1249];
pressures.forEach(function (p, i) {
  var col = legCols[Math.floor(i / 3)], yy = legRows[i % 3];
  svg.append("text").attr("x", col.textEnd).attr("y", yy).attr("dy", "0.35em")
    .attr("text-anchor", "end").attr("font-size", 15.5).text(p);
  svg.append("line").attr("x1", col.x1).attr("x2", col.x2).attr("y1", yy).attr("y2", yy)
    .attr("stroke", colors[i]).attr("stroke-width", 3);
});
</script>
</body>
</html>
